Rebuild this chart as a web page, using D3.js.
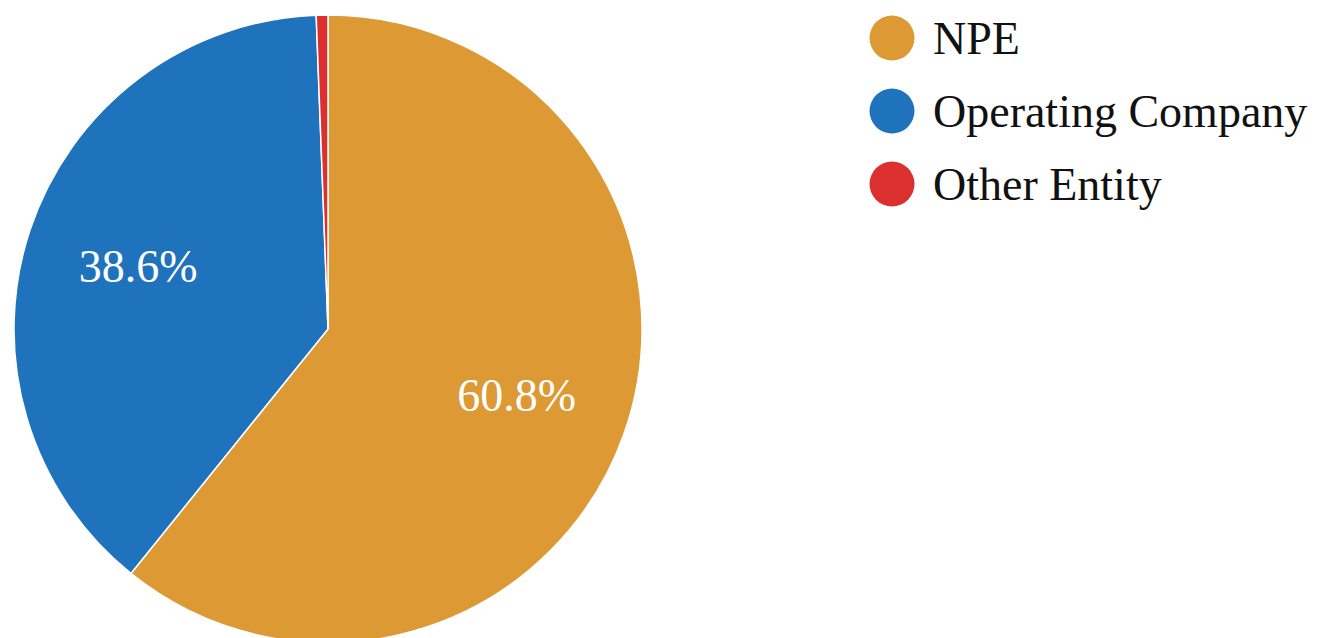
<!DOCTYPE html>
<html>
<head>
<meta charset="utf-8">
<script src="https://cdn.jsdelivr.net/npm/d3@7"></script>
<style>
  html, body { margin: 0; padding: 0; background: #fff; }
  svg { display: block; }
  text { font-family: "Liberation Serif", "Times New Roman", serif; }
</style>
</head>
<body>
<svg id="chart" width="1317" height="638"></svg>
<script>
// Share of entities, in percent
const categories = ["NPE", "Operating Company", "Other Entity"];
const shares = [60.8, 38.6, 0.6];
const colors = ["#DC9934", "#1F72BC", "#DC3030"];

const svg = d3.select("#chart");
const cx = 328, cy = 329, radius = 314;

const data = categories.map((c, i) => ({ name: c, value: shares[i], color: colors[i] }));

const pie = d3.pie().value(d => d.value).sort(null);
const arc = d3.arc().innerRadius(0).outerRadius(radius);
const labelArc = d3.arc().innerRadius(200).outerRadius(200);

const g = svg.append("g").attr("transform", `translate(${cx},${cy})`);
const arcs = pie(data);

g.selectAll("path.slice")
  .data(arcs)
  .join("path")
  .attr("class", "slice")
  .attr("d", arc)
  .attr("fill", d => d.data.color)
  .attr("stroke", "#fff")
  .attr("stroke-width", 1.5);

// Percentage labels on the larger slices
g.selectAll("text.pct")
  .data(arcs.filter(d => d.data.value >= 5))
  .join("text")
  .attr("class", "pct")
  .attr("transform", d => `translate(${labelArc.centroid(d)})`)
  .attr("text-anchor", "middle")
  .attr("dominant-baseline", "central")
  .attr("fill", "#fff")
  .attr("font-size", 46)
  .text(d => d.data.value.toFixed(1) + "%");

// Legend
const legendY = d3.scalePoint().domain(categories).range([38, 184]);
const legend = svg.append("g");
const items = legend.selectAll("g.item")
  .data(data)
  .join("g")
  .attr("class", "item")
  .attr("transform", d => `translate(892,${legendY(d.name)})`);

items.append("circle")
  .attr("r", 22.5)
  .attr("fill", d => d.color);

items.append("text")
  .attr("x", 41)
  .attr("dominant-baseline", "central")
  .attr("font-size", 46)
  .attr("fill", "#111")
  .text(d => d.name);
</script>
</body>
</html>
